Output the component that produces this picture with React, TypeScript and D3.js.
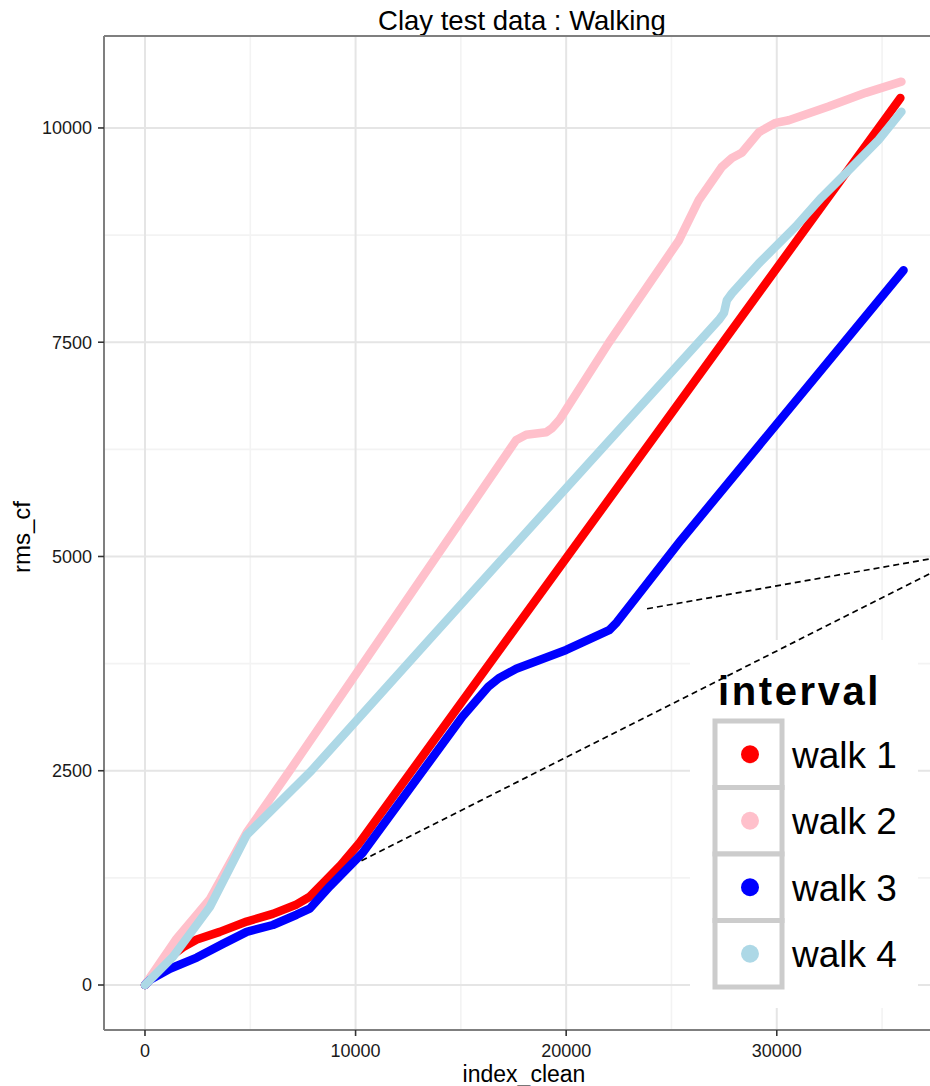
import React from "react";
import * as d3 from "d3";

// Cumulative rms_cf against index_clean for each walking interval: [index, rms_cf]
const walk1: [number, number][] = [
  [0, 0], [500, 150], [1040, 300], [1800, 440], [2460, 530], [3550, 620],
  [4830, 740], [6070, 830], [7200, 940], [7820, 1030], [8500, 1200],
  [9300, 1400], [10190, 1660], [35870, 10350],
];
const walk2: [number, number][] = [
  [0, 0], [1500, 540], [3080, 1000], [4830, 1780], [6870, 2500],
  [17630, 6360], [18100, 6420], [19050, 6450], [19340, 6500], [19670, 6590],
  [22040, 7500], [25360, 8690], [26300, 9160], [27390, 9545], [27870, 9650],
  [28340, 9710], [29150, 9950], [29950, 10060], [30570, 10090],
  [32460, 10250], [34220, 10410], [35920, 10540],
];
const walk3: [number, number][] = [
  [0, 0], [240, 60], [1180, 190], [2460, 320], [3700, 480], [4830, 620],
  [6070, 700], [7200, 820], [7820, 890], [8770, 1150], [10330, 1540],
  [15070, 3130], [16300, 3480], [16800, 3580], [17630, 3690], [20000, 3910],
  [22040, 4140], [22400, 4230], [25450, 5190], [36020, 8340],
];
const walk4: [number, number][] = [
  [0, 0], [1330, 330], [3080, 910], [4830, 1750], [7900, 2500],
  [13500, 4030], [21000, 6070], [24880, 7120], [27250, 7760], [27490, 7840],
  [27630, 7990], [27870, 8070], [29150, 8420], [30900, 8850], [32130, 9190],
  [33550, 9540], [34830, 9860], [35920, 10190],
];

const seriesNames = ["walk 1", "walk 2", "walk 3", "walk 4"];
const seriesColors = ["#FF0000", "#FFC0CB", "#0000FF", "#ADD8E6"];
const seriesData = [walk1, walk2, walk3, walk4];

// Axis breaks
const xMajor = [0, 10000, 20000, 30000];
const xMinor = [5000, 15000, 25000, 35000];
const yMajor = [0, 2500, 5000, 7500, 10000];
const yMinor = [1250, 3750, 6250, 8750];

// Dashed guide lines running toward the right-hand inset
const guideA: [number, number][] = [[23840, 4390], [38600, 5030]];
const guideB: [number, number][] = [[10280, 1450], [38600, 4965]];

const W = 930;
const H = 1086;
const panel = { left: 104, top: 36, bottom: 1030 };

const x = d3.scaleLinear().domain([-1946, 40600]).range([104, 1000]);
const y = d3.scaleLinear().domain([-525, 11073]).range([1030, 36]);

const line = d3
  .line<[number, number]>()
  .x((d) => x(d[0]))
  .y((d) => y(d[1]));

const font = "'Liberation Sans', Arial, sans-serif";

export default function App() {
  const legendX = 715;
  const legendY = 721;
  const keyH = 66.5;
  return (
    <div style={{ position: "absolute", left: 0, top: 0 }}>
      <svg width={W} height={H} style={{ display: "block", background: "#fff" }} fontFamily={font}>
        <defs>
          <clipPath id="panelClip">
            <rect x={panel.left} y={panel.top} width={W - panel.left} height={panel.bottom - panel.top} />
          </clipPath>
        </defs>
        <text x={522} y={30} textAnchor="middle" fontSize={27.5} fill="#000">
          Clay test data : Walking
        </text>

        <g clipPath="url(#panelClip)">
          <rect x={panel.left} y={panel.top} width={W - panel.left} height={panel.bottom - panel.top} fill="#fff" />
          {xMinor.map((v) => (
            <line key={"xm" + v} x1={x(v)} x2={x(v)} y1={panel.top} y2={panel.bottom} stroke="#f3f3f3" strokeWidth={1.6} />
          ))}
          {yMinor.map((v) => (
            <line key={"ym" + v} x1={panel.left} x2={W} y1={y(v)} y2={y(v)} stroke="#f3f3f3" strokeWidth={1.6} />
          ))}
          {xMajor.map((v) => (
            <line key={"xM" + v} x1={x(v)} x2={x(v)} y1={panel.top} y2={panel.bottom} stroke="#e5e5e5" strokeWidth={2} />
          ))}
          {yMajor.map((v) => (
            <line key={"yM" + v} x1={panel.left} x2={W} y1={y(v)} y2={y(v)} stroke="#e5e5e5" strokeWidth={2} />
          ))}
          {seriesData.map((d, i) => (
            <path
              key={seriesNames[i]}
              d={line(d) || ""}
              fill="none"
              stroke={seriesColors[i]}
              strokeWidth={8.5}
              strokeLinejoin="round"
              strokeLinecap="round"
            />
          ))}
        </g>

        {/* panel border */}
        <line x1={panel.left} x2={panel.left} y1={panel.top} y2={panel.bottom} stroke="#7f7f7f" strokeWidth={2} />
        <line x1={panel.left} x2={W} y1={panel.top} y2={panel.top} stroke="#7f7f7f" strokeWidth={2} />
        <line x1={panel.left} x2={W} y1={panel.bottom} y2={panel.bottom} stroke="#7f7f7f" strokeWidth={2} />

        {/* x axis */}
        {xMajor.map((v) => (
          <g key={"xt" + v}>
            <line x1={x(v)} x2={x(v)} y1={panel.bottom} y2={panel.bottom + 6} stroke="#333" strokeWidth={1.6} />
            <text x={x(v)} y={1057} textAnchor="middle" fontSize={18} fill="#1a1a1a">
              {v}
            </text>
          </g>
        ))}
        <text x={524} y={1082} textAnchor="middle" fontSize={23} fill="#000">
          index_clean
        </text>

        {/* y axis */}
        {yMajor.map((v) => (
          <g key={"yt" + v}>
            <line x1={panel.left - 6} x2={panel.left} y1={y(v)} y2={y(v)} stroke="#333" strokeWidth={1.6} />
            <text x={92} y={y(v)} dy="0.35em" textAnchor="end" fontSize={18} fill="#1a1a1a">
              {v}
            </text>
          </g>
        ))}
        <text transform="translate(30,537) rotate(-90)" textAnchor="middle" fontSize={24} fill="#000">
          rms_cf
        </text>

        {/* legend */}
        <rect x={690} y={640} width={228} height={368} fill="#fff" />
        <text x={718} y={705} fontSize={40} fontWeight="bold" letterSpacing={2.6} fill="#000">
          interval
        </text>
        {seriesNames.map((name, i) => (
          <g key={"lg" + name}>
            <rect
              x={legendX}
              y={legendY + i * keyH}
              width={67}
              height={keyH}
              fill="#fff"
              stroke="#cccccc"
              strokeWidth={5}
            />
            <circle cx={legendX + 35} cy={legendY + i * keyH + keyH / 2} r={9} fill={seriesColors[i]} />
            <text
              x={792}
              y={legendY + i * keyH + keyH / 2}
              dy="0.36em"
              fontSize={37}
              fill="#000"
            >
              {name}
            </text>
          </g>
        ))}

        {/* dashed guide lines */}
        {[guideA, guideB].map((g, i) => (
          <path key={"g" + i} d={line(g) || ""} fill="none" stroke="#000" strokeWidth={1.7} strokeDasharray="6,4" />
        ))}
      </svg>
    </div>
  );
}
